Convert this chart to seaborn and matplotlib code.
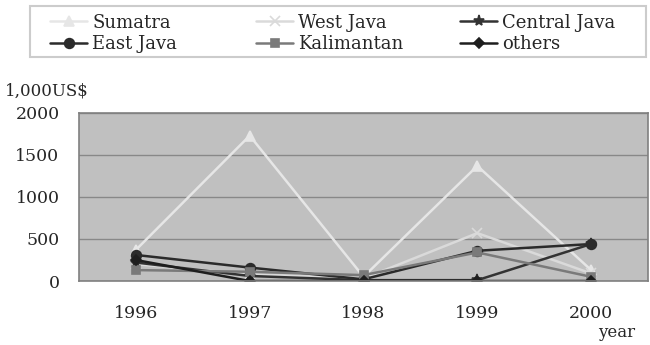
import pandas as pd
import matplotlib
matplotlib.use('Agg')
import matplotlib.pyplot as plt
from matplotlib.patches import Rectangle
import seaborn as sns

years = ['1996', '1997', '1998', '1999', '2000']
sumatra = [370, 1730, 50, 1370, 130]
west_java = [200, 80, 30, 570, 90]
central_java = [220, 60, 10, 10, 440]
east_java = [310, 160, 20, 360, 440]
kalimantan = [130, 110, 70, 340, 50]
others = [250, 0, 0, 0, 0]

regions = ['Sumatra', 'West Java', 'Central Java', 'East Java', 'Kalimantan', 'others']
series = [sumatra, west_java, central_java, east_java, kalimantan, others]

rows = []
for name, vals in zip(regions, series):
    for i, v in enumerate(vals):
        rows.append({'pos': i, 'year': years[i], 'region': name, 'value': v})
df = pd.DataFrame(rows)

palette = {'Sumatra': '#e6e6e6', 'West Java': '#dadada', 'Central Java': '#333333',
           'East Java': '#2b2b2b', 'Kalimantan': '#7a7a7a', 'others': '#1e1e1e'}
markers = {'Sumatra': '^', 'West Java': 'x', 'Central Java': '*',
           'East Java': 'o', 'Kalimantan': 's', 'others': 'D'}
sizes = {'Sumatra': 7, 'West Java': 7, 'Central Java': 8,
         'East Java': 7, 'Kalimantan': 6, 'others': 5}

sns.set_style('white')
plt.rcParams['font.family'] = ['DejaVu Serif']

fig = plt.figure(figsize=(6.5, 3.45), dpi=100)
ax = fig.add_axes([0.1215, 0.1855, 0.8755, 0.487])
ax.set_facecolor('#c0c0c0')

for name in regions:
    sub = df[df['region'] == name]
    sns.lineplot(data=sub, x='pos', y='value', ax=ax, color=palette[name],
                 marker=markers[name], markersize=sizes[name], linewidth=1.8,
                 markeredgecolor=palette[name], markeredgewidth=1.2, label=name,
                 legend=False)

ax.set_xlim(-0.5, 4.5)
ax.set_ylim(0, 2000)
ax.set_yticks([0, 500, 1000, 1500, 2000])
ax.set_xticks(range(5))
ax.set_xticklabels(years)
ax.set_xticks([0.5, 1.5, 2.5, 3.5], minor=True)
ax.tick_params(axis='x', which='major', length=0, pad=17, labelsize=12.5)
ax.tick_params(axis='x', which='minor', length=4, direction='in', color='#666666')
ax.tick_params(axis='y', length=0, pad=14, labelsize=12.5)
ax.yaxis.grid(True, color='#888888', linewidth=1)
ax.set_axisbelow(True)
for s in ax.spines.values():
    s.set_color('#808080')
    s.set_linewidth(1.2)
ax.set_xlabel('')
ax.set_ylabel('')

fig.text(0.008, 0.735, '1,000US$', fontsize=12, ha='left', va='center')
fig.text(0.978, 0.035, 'year', fontsize=12, ha='right', va='center')

# legend: three columns placed separately inside one frame
handles, labels = ax.get_legend_handles_labels()
hmap = dict(zip(labels, handles))
columns = [['Sumatra', 'East Java'], ['West Java', 'Kalimantan'], ['Central Java', 'others']]
col_x = [50, 256, 460]
for cx, names in zip(col_x, columns):
    leg = fig.legend([hmap[k] for k in names], names, loc='upper left',
                     bbox_to_anchor=(cx / 650, 0.96), frameon=False,
                     fontsize=13, handlelength=2.05, handletextpad=0.28,
                     labelspacing=0.18, borderpad=0, borderaxespad=0)
fig.patches.append(Rectangle((0.046, 0.835), 0.948, 0.148, transform=fig.transFigure,
                             fill=False, edgecolor='#cccccc', linewidth=1.5))

fig.savefig('out.png', dpi=100)
